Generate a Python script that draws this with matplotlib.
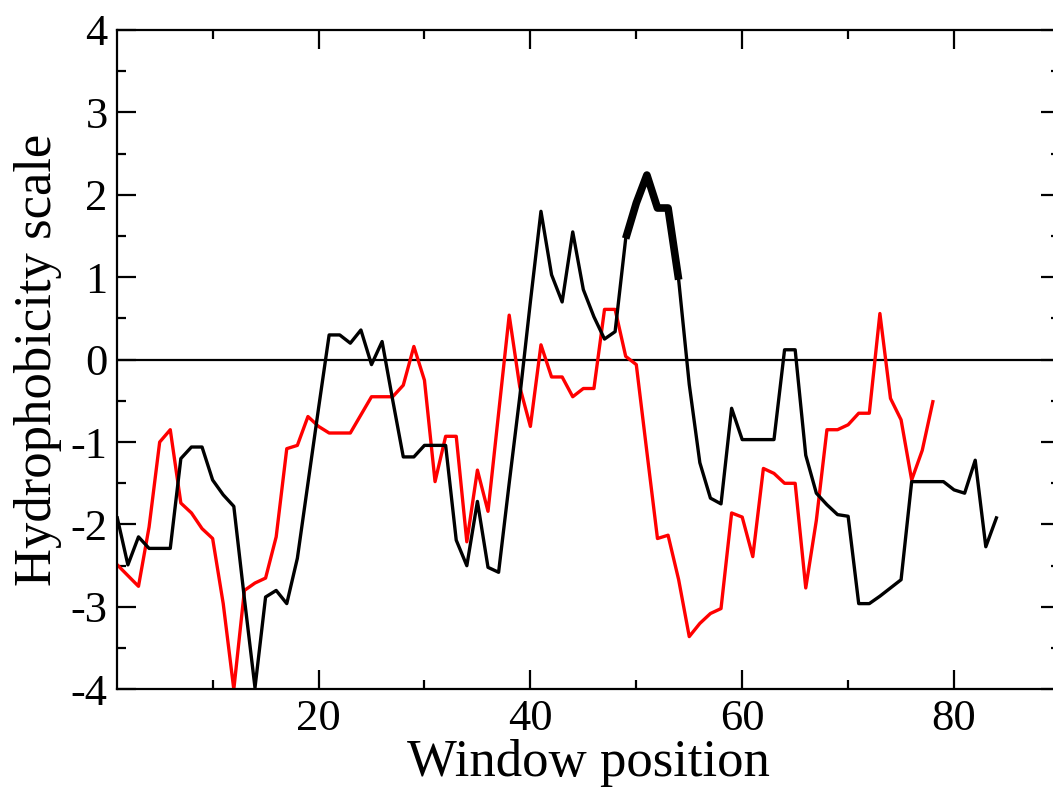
import numpy as np
import matplotlib
matplotlib.use("Agg")
import matplotlib.pyplot as plt
from matplotlib.ticker import MultipleLocator

plt.rcParams['font.family'] = ['Liberation Serif', 'DejaVu Serif']
plt.rcParams['axes.unicode_minus'] = False

black_x = list(range(1, 85))
black_y = [-1.92, -2.49, -2.15, -2.29, -2.29, -2.29, -1.20, -1.06, -1.06, -1.46,
           -1.64, -1.78, -2.90, -3.98, -2.88, -2.80, -2.96, -2.41, -1.50, -0.59,
           0.30, 0.30, 0.20, 0.36, -0.06, 0.22, -0.49, -1.18, -1.18, -1.04,
           -1.04, -1.04, -2.19, -2.50, -1.72, -2.52, -2.58, -1.50, -0.45, 0.70,
           1.80, 1.03, 0.70, 1.55, 0.85, 0.52, 0.25, 0.34, 1.47, 1.90,
           2.24, 1.84, 1.84, 0.97, -0.30, -1.25, -1.68, -1.75, -0.59, -0.97,
           -0.97, -0.97, -0.97, 0.12, 0.12, -1.16, -1.62, -1.76, -1.88, -1.90,
           -2.96, -2.96, -2.87, -2.77, -2.67, -1.48, -1.48, -1.48, -1.48, -1.58,
           -1.62, -1.22, -2.27, -1.92]

red_x = list(range(1, 79))
red_y = [-2.49, -2.62, -2.75, -2.03, -1.00, -0.85, -1.74, -1.86, -2.05, -2.17,
         -2.96, -4.00, -2.80, -2.71, -2.65, -2.15, -1.08, -1.04, -0.69, -0.81,
         -0.89, -0.89, -0.89, -0.67, -0.45, -0.45, -0.45, -0.31, 0.16, -0.25,
         -1.48, -0.93, -0.93, -2.21, -1.34, -1.84, -0.65, 0.54, -0.33, -0.81,
         0.18, -0.21, -0.21, -0.45, -0.35, -0.35, 0.61, 0.61, 0.04, -0.06,
         -1.12, -2.17, -2.13, -2.67, -3.36, -3.20, -3.08, -3.02, -1.86, -1.91,
         -2.39, -1.32, -1.38, -1.50, -1.50, -2.77, -1.95, -0.85, -0.85, -0.79,
         -0.65, -0.65, 0.56, -0.47, -0.73, -1.46, -1.10, -0.51]

highlight_start, highlight_end = 49, 54

fig = plt.figure(figsize=(10.53, 7.87), dpi=100)
ax = fig.add_axes([0.1114, 0.1241, 0.8952, 0.8378])

ax.axhline(0, color='black', lw=1.6, zorder=1)
ax.plot(black_x, black_y, color='black', lw=2.4, zorder=3)
ax.plot(red_x, red_y, color='#ff0000', lw=2.4, zorder=2)
i0 = black_x.index(highlight_start)
i1 = black_x.index(highlight_end)
ax.plot(black_x[i0:i1 + 1], black_y[i0:i1 + 1], color='black', lw=5.5,
        solid_capstyle='butt', zorder=4)

ax.set_xlim(1, 90)
ax.set_ylim(-4, 4)
ax.xaxis.set_major_locator(MultipleLocator(20))
ax.xaxis.set_minor_locator(MultipleLocator(10))
ax.yaxis.set_major_locator(MultipleLocator(1))
ax.yaxis.set_minor_locator(MultipleLocator(0.5))
ax.tick_params(which='both', direction='in', top=True, right=True, width=1.6,
               labelsize=32)
ax.tick_params(which='major', length=13.5, pad=7)
ax.tick_params(which='minor', length=6.5)
for s in ax.spines.values():
    s.set_linewidth(1.6)

ax.set_xlabel('Window position', fontsize=38, labelpad=0)
ax.set_ylabel('Hydrophobicity scale', fontsize=38, labelpad=6)

fig.savefig('out.png', dpi=100)
